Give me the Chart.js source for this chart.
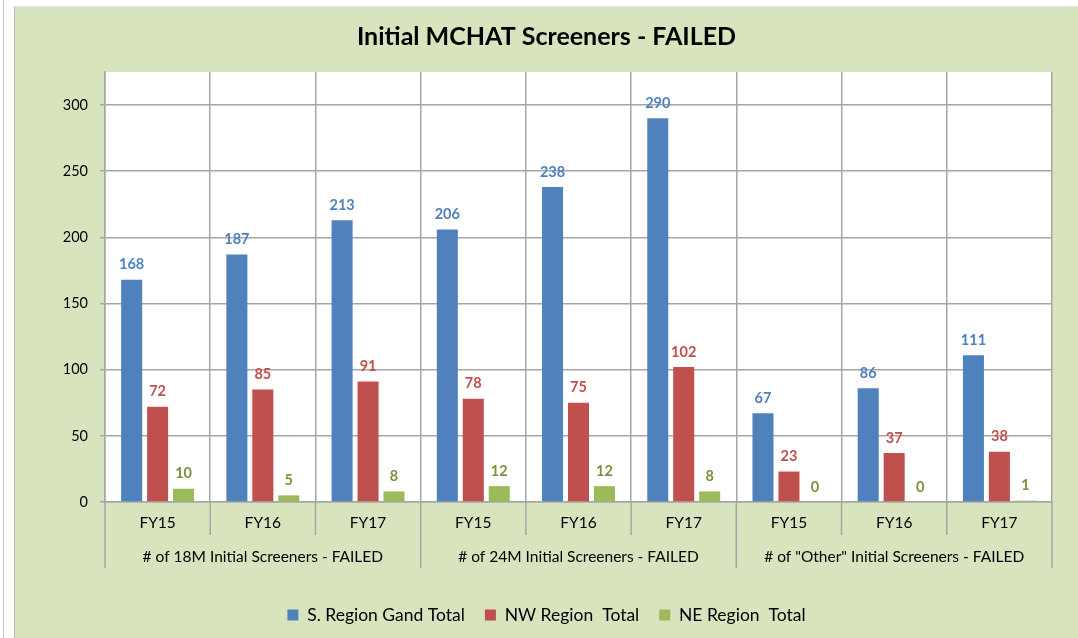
<!DOCTYPE html>
<html>
<head>
<meta charset="utf-8">
<title>Initial MCHAT Screeners - FAILED</title>
<script src="https://cdn.jsdelivr.net/npm/chart.js@4"></script>
<style>
  html, body { margin: 0; padding: 0; background: #fff; }
  body { width: 1078px; height: 638px; position: relative; overflow: hidden; }
  .page-line { position: absolute; left: 3px; top: 0; width: 1px; height: 638px; background: #c8c8c8; }
  .chart-box {
    position: absolute; left: 14px; top: 6px;
    width: 1063px; height: 631px;
    background: #d7e4bd;
    border-left: 1px solid #b8b8b8; border-top: 1px solid #e4e4e4;
  }
</style>
</head>
<body>
<div class="page-line"></div>
<div class="chart-box">
  <canvas id="mchatChart"></canvas>
</div>
<script>
// chart data
const categories = ['FY15', 'FY16', 'FY17', 'FY15', 'FY16', 'FY17', 'FY15', 'FY16', 'FY17'];
const groups = [
    '# of 18M Initial Screeners - FAILED',
    '# of 24M Initial Screeners - FAILED',
    '# of "Other" Initial Screeners - FAILED'
];
const seriesNames = ['S. Region Gand Total', 'NW Region  Total', 'NE Region  Total'];
const sRegion = [168, 187, 213, 206, 238, 290, 67, 86, 111];
const nwRegion = [72, 85, 91, 78, 75, 102, 23, 37, 38];
const neRegion = [10, 5, 8, 12, 12, 8, 0, 0, 1];
const yTicks = [0, 50, 100, 150, 200, 250, 300];

const barColors = ['#4f81bd', '#c0504d', '#9bbb59'];
const labelColors = ['#4f81bd', '#c0504d', '#77933c'];
const gridColor = '#a6a6a6';
const FONT = 'Lato, "Open Sans", sans-serif';

// white plot area on the green chart background
const plotBg = {
    id: 'plotBg',
    beforeDraw(chart) {
        const { ctx, chartArea: a } = chart;
        ctx.save();
        ctx.fillStyle = '#ffffff';
        ctx.fillRect(a.left, a.top, a.right - a.left, a.bottom - a.top);
        ctx.restore();
    }
};

// value labels above each bar
const valueLabels = {
    id: 'valueLabels',
    afterDatasetsDraw(chart) {
        const ctx = chart.ctx;
        ctx.save();
        ctx.font = 'bold 14.5px ' + FONT;
        ctx.textAlign = 'center';
        ctx.textBaseline = 'middle';
        chart.data.datasets.forEach((ds, i) => {
            ctx.fillStyle = labelColors[i];
            chart.getDatasetMeta(i).data.forEach((bar, j) => {
                ctx.fillText(String(ds.data[j]), bar.x, bar.y - 15);
            });
        });
        ctx.restore();
    }
};

// two-level category axis (years + group names) like Excel
const groupAxis = {
    id: 'groupAxis',
    afterDraw(chart) {
        const ctx = chart.ctx;
        const x = chart.scales.x;
        const bottom = chart.chartArea.bottom;
        const n = categories.length;
        const step = (x.right - x.left) / n;
        ctx.save();
        ctx.strokeStyle = gridColor;
        ctx.lineWidth = 1.5;
        for (let i = 0; i <= n; i++) {
            const bx = x.left + i * step;
            const len = i % 3 === 0 ? 66 : 33;
            ctx.beginPath();
            ctx.moveTo(bx, bottom);
            ctx.lineTo(bx, bottom + len);
            ctx.stroke();
        }
        ctx.fillStyle = '#000';
        ctx.font = '15.5px ' + FONT;
        ctx.textAlign = 'center';
        ctx.textBaseline = 'middle';
        categories.forEach((c, i) => {
            ctx.fillText(c, x.getPixelForValue(i), bottom + 21);
        });
        groups.forEach((g, k) => {
            const cx = x.left + (k * 3 + 1.5) * step;
            ctx.fillText(g, cx, bottom + 55);
        });
        ctx.restore();
    }
};

const ctx = document.getElementById('mchatChart').getContext('2d');

new Chart(ctx, {
    type: 'bar',
    data: {
        labels: categories,
        datasets: [
            { label: seriesNames[0], data: sRegion, backgroundColor: barColors[0] },
            { label: seriesNames[1], data: nwRegion, backgroundColor: barColors[1] },
            { label: seriesNames[2], data: neRegion, backgroundColor: barColors[2] }
        ]
    },
    options: {
        responsive: true,
        maintainAspectRatio: false,
        animation: false,
        categoryPercentage: 0.74,
        barPercentage: 0.81,
        layout: { padding: { left: 0, right: 0, top: 0, bottom: 4.25 } },
        plugins: {
            title: {
                display: true,
                text: 'Initial MCHAT Screeners - FAILED',
                color: '#000',
                font: { family: FONT, size: 25, weight: 'bold' },
                padding: { top: 15, bottom: 20 }
            },
            legend: {
                position: 'bottom',
                labels: {
                    boxWidth: 11,
                    boxHeight: 11,
                    padding: 20,
                    color: '#000',
                    font: { family: FONT, size: 17.5 }
                }
            },
            tooltip: { enabled: false }
        },
        scales: {
            x: {
                grid: { offset: true, color: gridColor, lineWidth: 1.5, drawTicks: false },
                border: { color: gridColor, width: 1.5 },
                ticks: { display: false },
                afterFit(scale) { scale.height = 84.25; }
            },
            y: {
                min: 0,
                max: 325,
                afterBuildTicks(scale) {
                    scale.ticks = yTicks.map(v => ({ value: v }));
                },
                grid: { color: gridColor, lineWidth: 1.5, tickLength: 5 },
                border: { color: gridColor, width: 1.5 },
                ticks: { color: '#000', padding: 12, font: { family: FONT, size: 14.5 } },
                afterFit(scale) { scale.width = 90; }
            },
            yRight: {
                position: 'right',
                display: true,
                grid: { display: false },
                border: { display: false },
                ticks: { display: false },
                afterFit(scale) { scale.width = 26; }
            }
        }
    },
    plugins: [plotBg, valueLabels, groupAxis]
});
</script>
</body>
</html>
